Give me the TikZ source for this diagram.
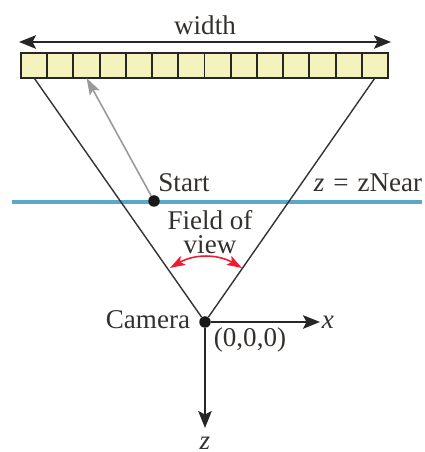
\documentclass[tikz,border=0pt]{standalone}
\usepackage{fontspec}
\setmainfont{Liberation Serif}
\usetikzlibrary{arrows.meta}
\definecolor{cellfill}{HTML}{F4F3BE}
\definecolor{planeblue}{HTML}{5BA8C8}
\definecolor{arcred}{HTML}{EE1C2E}
\definecolor{textink}{HTML}{33302E}
\tikzset{
  cellbox/.style={draw=black!85,line width=1.1pt,fill=cellfill,minimum width=0.5243cm,minimum height=0.5cm,inner sep=0pt,outer sep=0pt},
  dotnode/.style={circle,fill=black!90,inner sep=0pt,minimum size=0.23cm},
  lbl/.style={inner sep=0pt,text=textink,font=\fontsize{15.4}{17}\selectfont},
  axis/.style={-{Stealth[length=0.34cm,width=0.27cm,inset=0.07cm]},line width=1.1pt,black!85},
}
\begin{document}
\begin{tikzpicture}
\useasboundingbox (-4.1,-2.6) rectangle (4.38,6.44);
\foreach \i in {1,...,14}
  \node[cellbox] (cell\i) at ({-3.68+0.5243*(\i-0.5)},5.13) {};
\coordinate (widthL) at (-3.72,5.6);
\coordinate (widthR) at (3.72,5.6);
\draw[axis,{Stealth[length=0.34cm,width=0.27cm,inset=0.07cm]}-{Stealth[length=0.34cm,width=0.27cm,inset=0.07cm]}] (widthL) -- (widthR);
\node[lbl] (widthlbl) at (0,5.94) {width};
% plane and view cone
\coordinate (planeL) at (-3.86,2.4);
\coordinate (planeR) at (4.34,2.4);
\draw[planeblue,line width=1.8pt] (planeL) -- (planeR);
\node[dotnode] (camera) at (0,0) {};
\node[dotnode] (start) at (-1.02,2.42) {};
\draw[black!80,line width=0.8pt] (camera) -- (cell1.south);
\draw[black!80,line width=0.8pt] (camera) -- (cell14.south);
\draw[black!40,line width=0.9pt,-{Stealth[length=0.34cm,width=0.22cm,inset=0.07cm]}] (start) -- (cell3.south);
\node[lbl] (startlbl) at (-0.42,2.78) {Start};
\node[lbl] (nearlbl) at (3.26,2.78) {\textit{z}\,\,=\,\,zNear};
\node[lbl] (fovlbl) at (0.1,2.04) {Field of};
\node[lbl] (viewlbl) at (0.1,1.54) {view};
% field of view arc
\coordinate (arcL) at (-0.7,1.08);
\coordinate (arcR) at (0.74,1.08);
\draw[arcred,line width=0.9pt,{Stealth[length=0.3cm,width=0.2cm,inset=0.06cm]}-{Stealth[length=0.3cm,width=0.2cm,inset=0.06cm]}] (arcL) to[bend left=30] (arcR);
% axes
\coordinate (xend) at (2.3,0);
\coordinate (zend) at (0,-2.12);
\draw[axis] (camera) -- (xend);
\draw[axis] (camera) -- (zend);
\node[lbl] (xlbl) at (2.46,0) {\textit{x}};
\node[lbl] (zlbl) at (0,-2.42) {\textit{z}};
\node[lbl] (cameralbl) at (-1.14,0.04) {Camera};
\node[lbl] (originlbl) at (0.9,-0.36) {(0,0,0)};
\end{tikzpicture}
\end{document}
